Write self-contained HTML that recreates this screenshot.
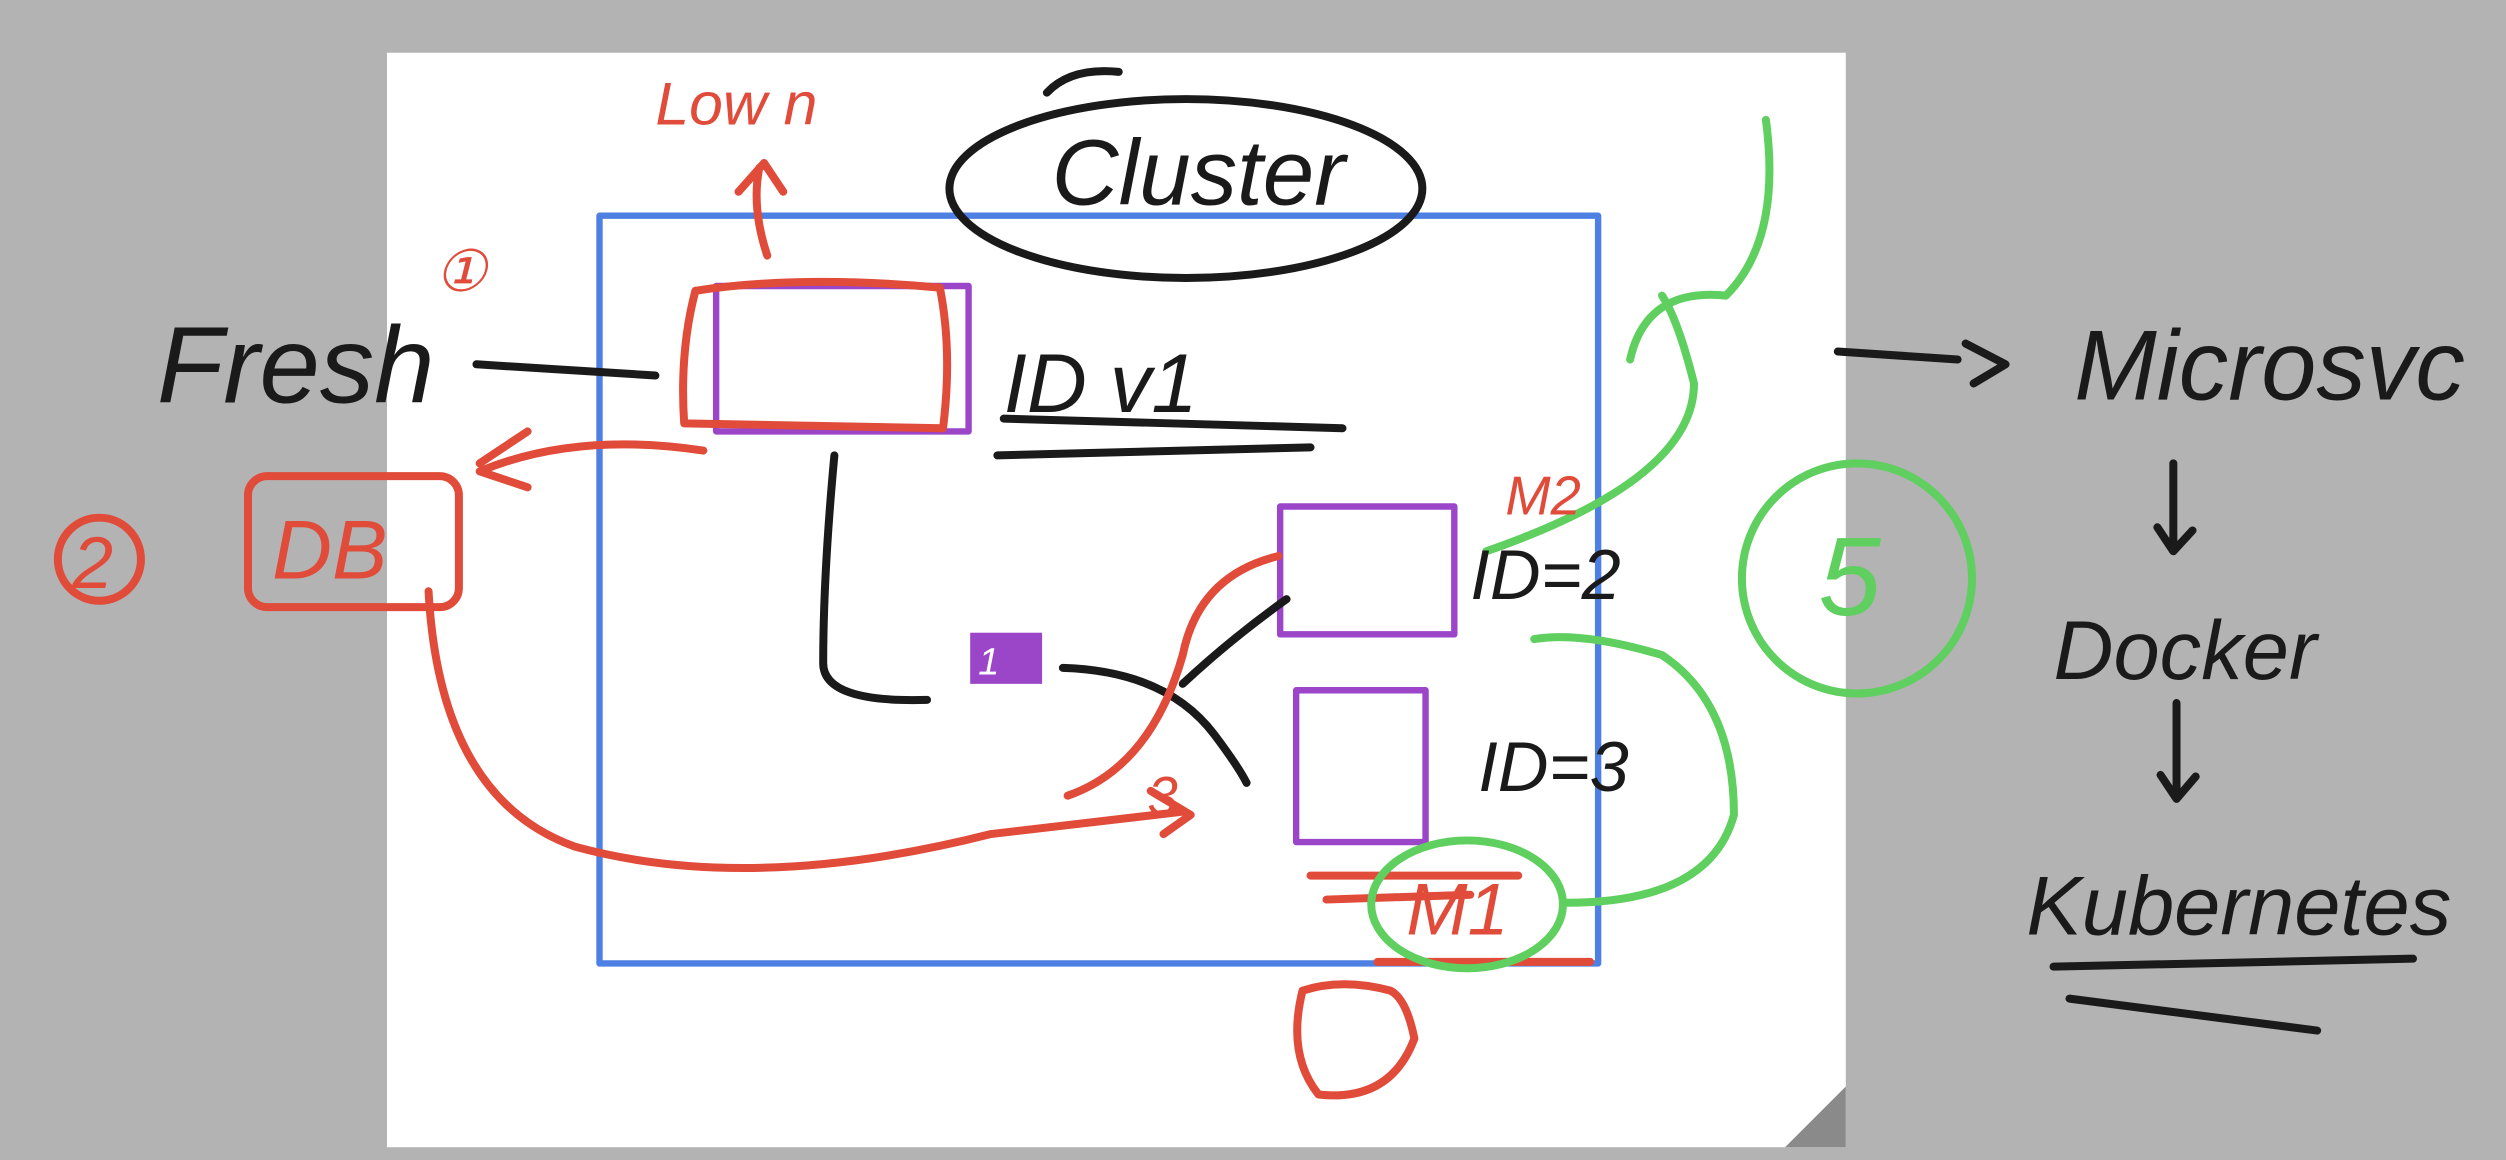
<!DOCTYPE html>
<html><head><meta charset="utf-8"><style>
html,body{margin:0;padding:0;background:#b3b3b3;width:2506px;height:1160px;overflow:hidden}
svg{display:block}
text{font-family:"Liberation Sans",sans-serif;font-style:italic}
</style></head><body>
<svg width="2506" height="1160" viewBox="0 0 1568 726" xmlns="http://www.w3.org/2000/svg">
<rect x="0" y="0" width="1568" height="726" fill="#b3b3b3"/>
<rect x="242" y="33" width="913" height="685" fill="#ffffff"/>
<polygon points="1155,680 1155,718 1117,718" fill="#8a8a8a"/>
<g fill="none" stroke-linecap="round" stroke-linejoin="round">
<rect x="375" y="135" width="625" height="468" stroke="#4e7fe3" stroke-width="4"/>
<ellipse cx="742" cy="118" rx="148" ry="56" stroke="#1a1a1a" stroke-width="5"/>
<path d="M655,58 Q670,42 700,45" stroke="#1a1a1a" stroke-width="5"/>
<rect x="448" y="179" width="158" height="91" stroke="#9b45c8" stroke-width="4"/>
<path d="M435,182 Q425,220 428,265 L590,268 Q596,220 588,180 Q500,172 435,182" stroke="#e04b3a" stroke-width="5"/>
<rect x="801" y="317" width="109" height="80" stroke="#9b45c8" stroke-width="4"/>
<rect x="811" y="432" width="81" height="95" stroke="#9b45c8" stroke-width="4"/>
<rect x="607" y="396" width="45" height="32" fill="#9b45c8" stroke="none"/>
<path d="M298,228 L410,235" stroke="#1a1a1a" stroke-width="5"/>
<path d="M628,262 L840,268 M624,285 L820,280" stroke="#1a1a1a" stroke-width="5"/>
<path d="M522,285 Q515,360 515,415 Q515,440 580,438" stroke="#1a1a1a" stroke-width="5"/>
<path d="M665,418 Q730,420 760,460 Q775,480 780,490 M740,428 Q770,400 805,375" stroke="#1a1a1a" stroke-width="5"/>
<path d="M1150,220 L1225,225 M1230,215 L1255,228 L1235,240" stroke="#1a1a1a" stroke-width="5"/>
<path d="M1360,290 L1360,340 M1350,330 L1360,345 L1372,332" stroke="#1a1a1a" stroke-width="5"/>
<path d="M1362,440 L1362,495 M1352,485 L1362,500 L1374,486" stroke="#1a1a1a" stroke-width="5"/>
<path d="M1285,605 L1510,600 M1295,625 L1450,645" stroke="#1a1a1a" stroke-width="5"/>
<rect x="155" y="298" width="132" height="82" rx="12" stroke="#e04b3a" stroke-width="5"/>
<circle cx="62" cy="350" r="26" stroke="#e04b3a" stroke-width="5"/>
<path d="M300,295 Q360,270 440,282 M300,290 L330,270 M300,295 L330,305" stroke="#e04b3a" stroke-width="5"/>
<path d="M268,370 Q275,500 360,530 Q470,560 620,522 L740,508 M720,495 L745,510 L728,522" stroke="#e04b3a" stroke-width="5"/>
<path d="M668,498 Q720,480 740,410 Q750,360 800,348" stroke="#e04b3a" stroke-width="5"/>
<path d="M480,160 Q470,130 475,105 M462,120 L478,102 L490,120" stroke="#e04b3a" stroke-width="5"/>
<path d="M820,548 L950,548 M830,563 L920,560 M862,602 L995,602" stroke="#e04b3a" stroke-width="5"/>
<path d="M815,620 Q805,660 825,685 Q870,690 885,650 Q880,625 870,620 Q840,612 815,620" stroke="#e04b3a" stroke-width="5"/>
<ellipse cx="918" cy="566" rx="60" ry="40" stroke="#5fcf5f" stroke-width="5"/>
<path d="M980,565 Q1070,565 1085,510 Q1085,440 1040,410 Q990,395 960,400" stroke="#5fcf5f" stroke-width="5"/>
<circle cx="1162" cy="362" r="72" stroke="#5fcf5f" stroke-width="5"/>
<path d="M930,345 Q1060,300 1060,240 Q1050,200 1040,185 M1020,225 Q1030,180 1080,185 Q1115,150 1105,75" stroke="#5fcf5f" stroke-width="5"/>
</g>
<g font-size="68" fill="#1a1a1a">
<text x="98" y="252">Fresh</text>
<text x="658" y="128" font-size="58">Cluster</text>
<text x="628" y="258" font-size="52">ID v1</text>
<text x="920" y="375" font-size="44">ID=2</text>
<text x="925" y="495" font-size="44">ID=3</text>
<text x="1298" y="250" font-size="62">Microsvc</text>
<text x="1285" y="425" font-size="52">Docker</text>
<text x="1268" y="585" font-size="52">Kubernetes</text>
</g>
<g fill="#e04b3a">
<text x="410" y="78" font-size="38">Low n</text>
<text x="272" y="182" font-size="36">①</text>
<text x="45" y="368" font-size="46">2</text>
<text x="170" y="362" font-size="52">DB</text>
<text x="942" y="322" font-size="34">M2</text>
<text x="880" y="585" font-size="46">M1</text>
<text x="718" y="510" font-size="34">3</text>
</g>
<text x="1138" y="385" font-size="70" fill="#5fcf5f">5</text>
<text x="612" y="422" font-size="24" fill="#ffffff">1</text>
</svg>
</body></html>
